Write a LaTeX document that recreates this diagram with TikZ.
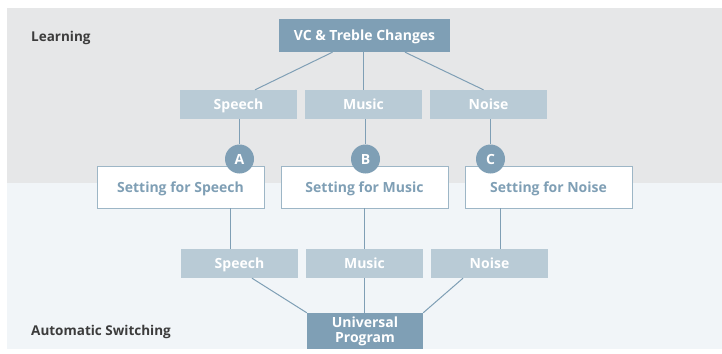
\documentclass[tikz,border=0pt]{standalone}
\usepackage{fontspec}
\setmainfont{Open Sans}
\definecolor{bandgray}{HTML}{E6E7E8}
\definecolor{bandlight}{HTML}{F1F5F8}
\definecolor{steel}{HTML}{7F9FB5}
\definecolor{mist}{HTML}{B9CBD6}
\definecolor{frame}{HTML}{9DB6C6}
\definecolor{caption}{HTML}{3C3C3C}
\newcommand{\boxfont}{\bfseries\fontsize{14}{15}\selectfont}
\begin{document}
\begin{tikzpicture}[x=1pt,y=-1pt,
  textbal/.style={text height=10pt,text depth=0pt},
  darkbox/.style={fill=steel,text=white,font=\boxfont,inner sep=0pt,minimum width=#1},
  lightbox/.style={fill=mist,text=white,font=\boxfont,textbal,inner sep=0pt,minimum width=117pt,minimum height=29pt},
  setbox/.style={draw=frame,line width=0.9pt,fill=white,text=steel,font=\boxfont,textbal,inner sep=0pt,minimum width=167pt,minimum height=42pt},
  badge/.style={circle,fill=steel,text=white,font=\boxfont,textbal,inner sep=0pt,minimum size=29pt},
  link/.style={draw=steel,line width=1pt},
  band/.style={font=\bfseries\fontsize{13.5}{15}\selectfont,text height=9.6pt,text depth=0pt,text=caption,anchor=west,inner sep=0pt}]
\useasboundingbox (0,0) rectangle (722,353);
% background bands
\fill[bandgray] (7,8) rectangle (722,183);
\fill[bandlight] (7,183) rectangle (722,349);
\node[band] (learning) at (31,37) {Learning};
\node[band] (auto) at (31,331) {Automatic Switching};

% learning tree
\node[darkbox=171pt,minimum height=33pt,textbal] (vc) at (364.5,35.5) {VC \& Treble Changes};
\node[lightbox] (ls) at (238.5,104.5) {Speech};
\node[lightbox] (lm) at (363.5,104.5) {Music};
\node[lightbox] (ln) at (488.5,104.5) {Noise};
\draw[link] ([xshift=-32pt]vc.south) -- ([xshift=16.5pt]ls.north);
\draw[link] (vc.south -| lm.north) -- (lm.north);
\draw[link] ([xshift=40.5pt]vc.south) -- ([xshift=-5pt]ln.north);

% program settings
\node[setbox] (ss) at (180.5,187) {Setting for Speech};
\node[setbox] (sm) at (364.5,187) {Setting for Music};
\node[setbox] (sn) at (548.5,187) {Setting for Noise};
\node[badge] (ba) at (239.5,159) {A};
\node[badge] (bb) at (365.5,159) {B};
\node[badge] (bc) at (490.5,159) {C};
\draw[link] (ls.south -| ba.north) -- (ba.north);
\draw[link] (lm.south -| bb.north) -- (bb.north);
\draw[link] (ln.south -| bc.north) -- (bc.north);

% automatic switching tree
\node[lightbox] (as) at (239.5,263.5) {Speech};
\node[lightbox] (am) at (364.5,263.5) {Music};
\node[lightbox] (an) at (489.5,263.5) {Noise};
\node[darkbox=116pt,minimum height=36pt,align=center,font=\bfseries\fontsize{14}{15}\selectfont] (up) at (365,331) {Universal\\Program};
\draw[link] ([xshift=49.5pt]ss.south) -- ([xshift=49.5pt]ss.south |- as.north);
\draw[link] (sm.south) -- (sm.south |- am.north);
\draw[link] ([xshift=-48.5pt]sn.south) -- ([xshift=-48.5pt]sn.south |- an.north);
\draw[link] ([xshift=12.5pt]as.south) -- (up.north west);
\draw[link] (am.south) -- (am.south |- up.north);
\draw[link] ([xshift=-26.5pt]an.south) -- (up.north east);
\end{tikzpicture}
\end{document}
